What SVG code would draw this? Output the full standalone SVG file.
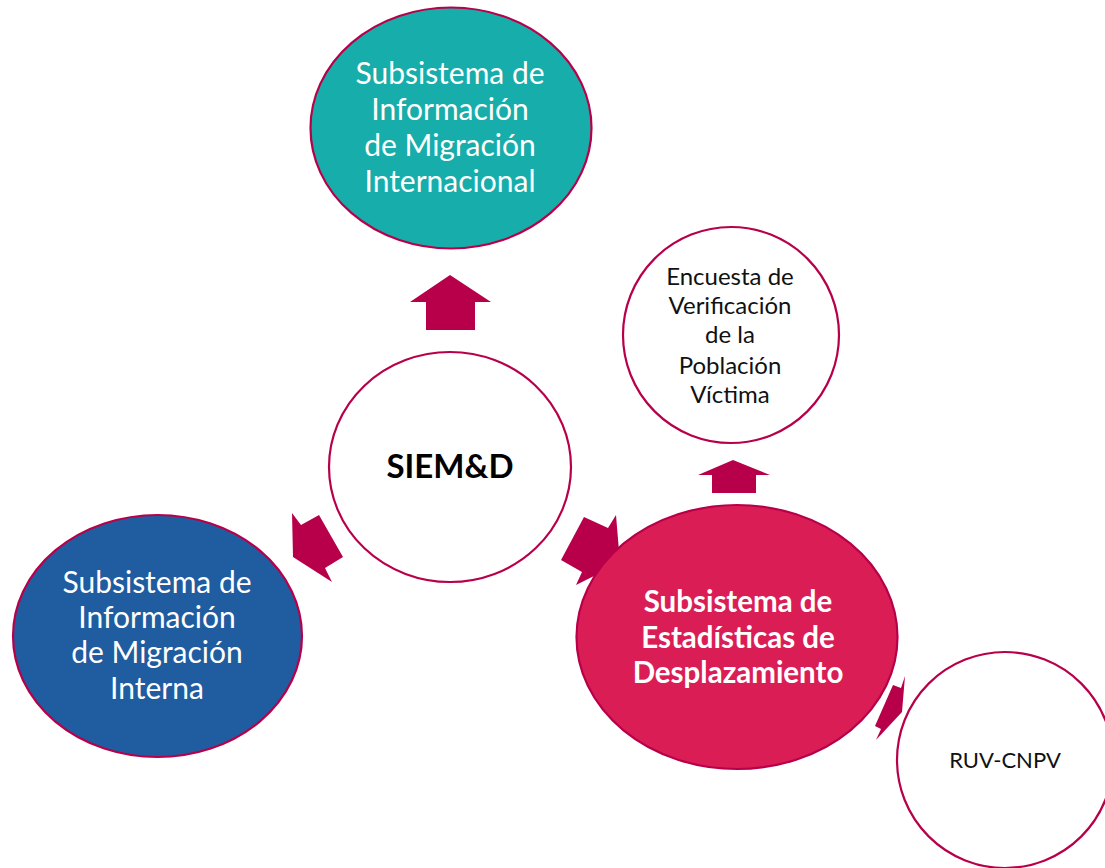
<svg xmlns="http://www.w3.org/2000/svg" width="1105" height="868" viewBox="0 0 1105 868">
<style>
.arrow{fill:#b8004a;}
.node{stroke:#b8004a;stroke-width:2.2;}
.t{font-family:Lato,"Open Sans","Liberation Sans",sans-serif;text-anchor:middle;}
.big{font-size:30px;fill:#ffffff;}
.bigb{font-size:29.5px;font-weight:bold;fill:#ffffff;}
.small{font-size:24px;fill:#111111;}
</style>
<rect width="1105" height="868" fill="#ffffff"/>
<g id="connectors">
<polygon class="arrow" points="450,275 491,302 475,302 475,330 426,330 426,302 410,302"/>
<polygon class="arrow" points="733,460 770,475 756,475 756,493 712,493 712,475 698,475"/>
<polygon class="arrow" points="293,557 292,513 301,525 319,515 343,557 325,568 332,582"/>
<polygon class="arrow" points="584,517 608,528 616,515 620,563 576,585 582,572 561,560"/>
<polygon class="arrow" points="905,676 902,712 876,740 881,729 875,726 893,685 901,688"/>
</g>
<g id="node-migracion-internacional">
<ellipse class="node" cx="451" cy="128" rx="140.5" ry="120.5" fill="#17adaa"/>
<text class="t big" x="450" y="84">Subsistema de</text>
<text class="t big" x="450" y="120">Información</text>
<text class="t big" x="450" y="156">de Migración</text>
<text class="t big" x="450" y="192">Internacional</text>
</g>
<g id="node-siemd">
<ellipse class="node" cx="450" cy="467" rx="121" ry="115" fill="#ffffff"/>
<text class="t" x="450" y="478" font-size="33" font-weight="bold" fill="#000000">SIEM&amp;D</text>
</g>
<g id="node-migracion-interna">
<ellipse class="node" cx="157.5" cy="636" rx="144.5" ry="121" fill="#1f5ca0"/>
<text class="t big" x="157" y="593">Subsistema de</text>
<text class="t big" x="157" y="628">Información</text>
<text class="t big" x="157" y="663">de Migración</text>
<text class="t big" x="157" y="699">Interna</text>
</g>
<g id="node-desplazamiento">
<ellipse class="node" cx="737" cy="637" rx="160.5" ry="132" fill="#db1d56"/>
<text class="t bigb" x="738" y="612">Subsistema de</text>
<text class="t bigb" x="738" y="648">Estadísticas de</text>
<text class="t bigb" x="738" y="683">Desplazamiento</text>
</g>
<g id="node-encuesta">
<ellipse class="node" cx="731" cy="335" rx="108" ry="108" fill="#ffffff"/>
<text class="t small" x="730" y="285">Encuesta de</text>
<text class="t small" x="730" y="314">Verificación</text>
<text class="t small" x="730" y="343">de la</text>
<text class="t small" x="730" y="374">Población</text>
<text class="t small" x="730" y="403">Víctima</text>
</g>
<g id="node-ruv">
<ellipse class="node" cx="1005" cy="760" rx="108" ry="108" fill="#ffffff"/>
<text class="t" x="1005" y="768" font-size="22" fill="#111111">RUV-CNPV</text>
</g>
</svg>
